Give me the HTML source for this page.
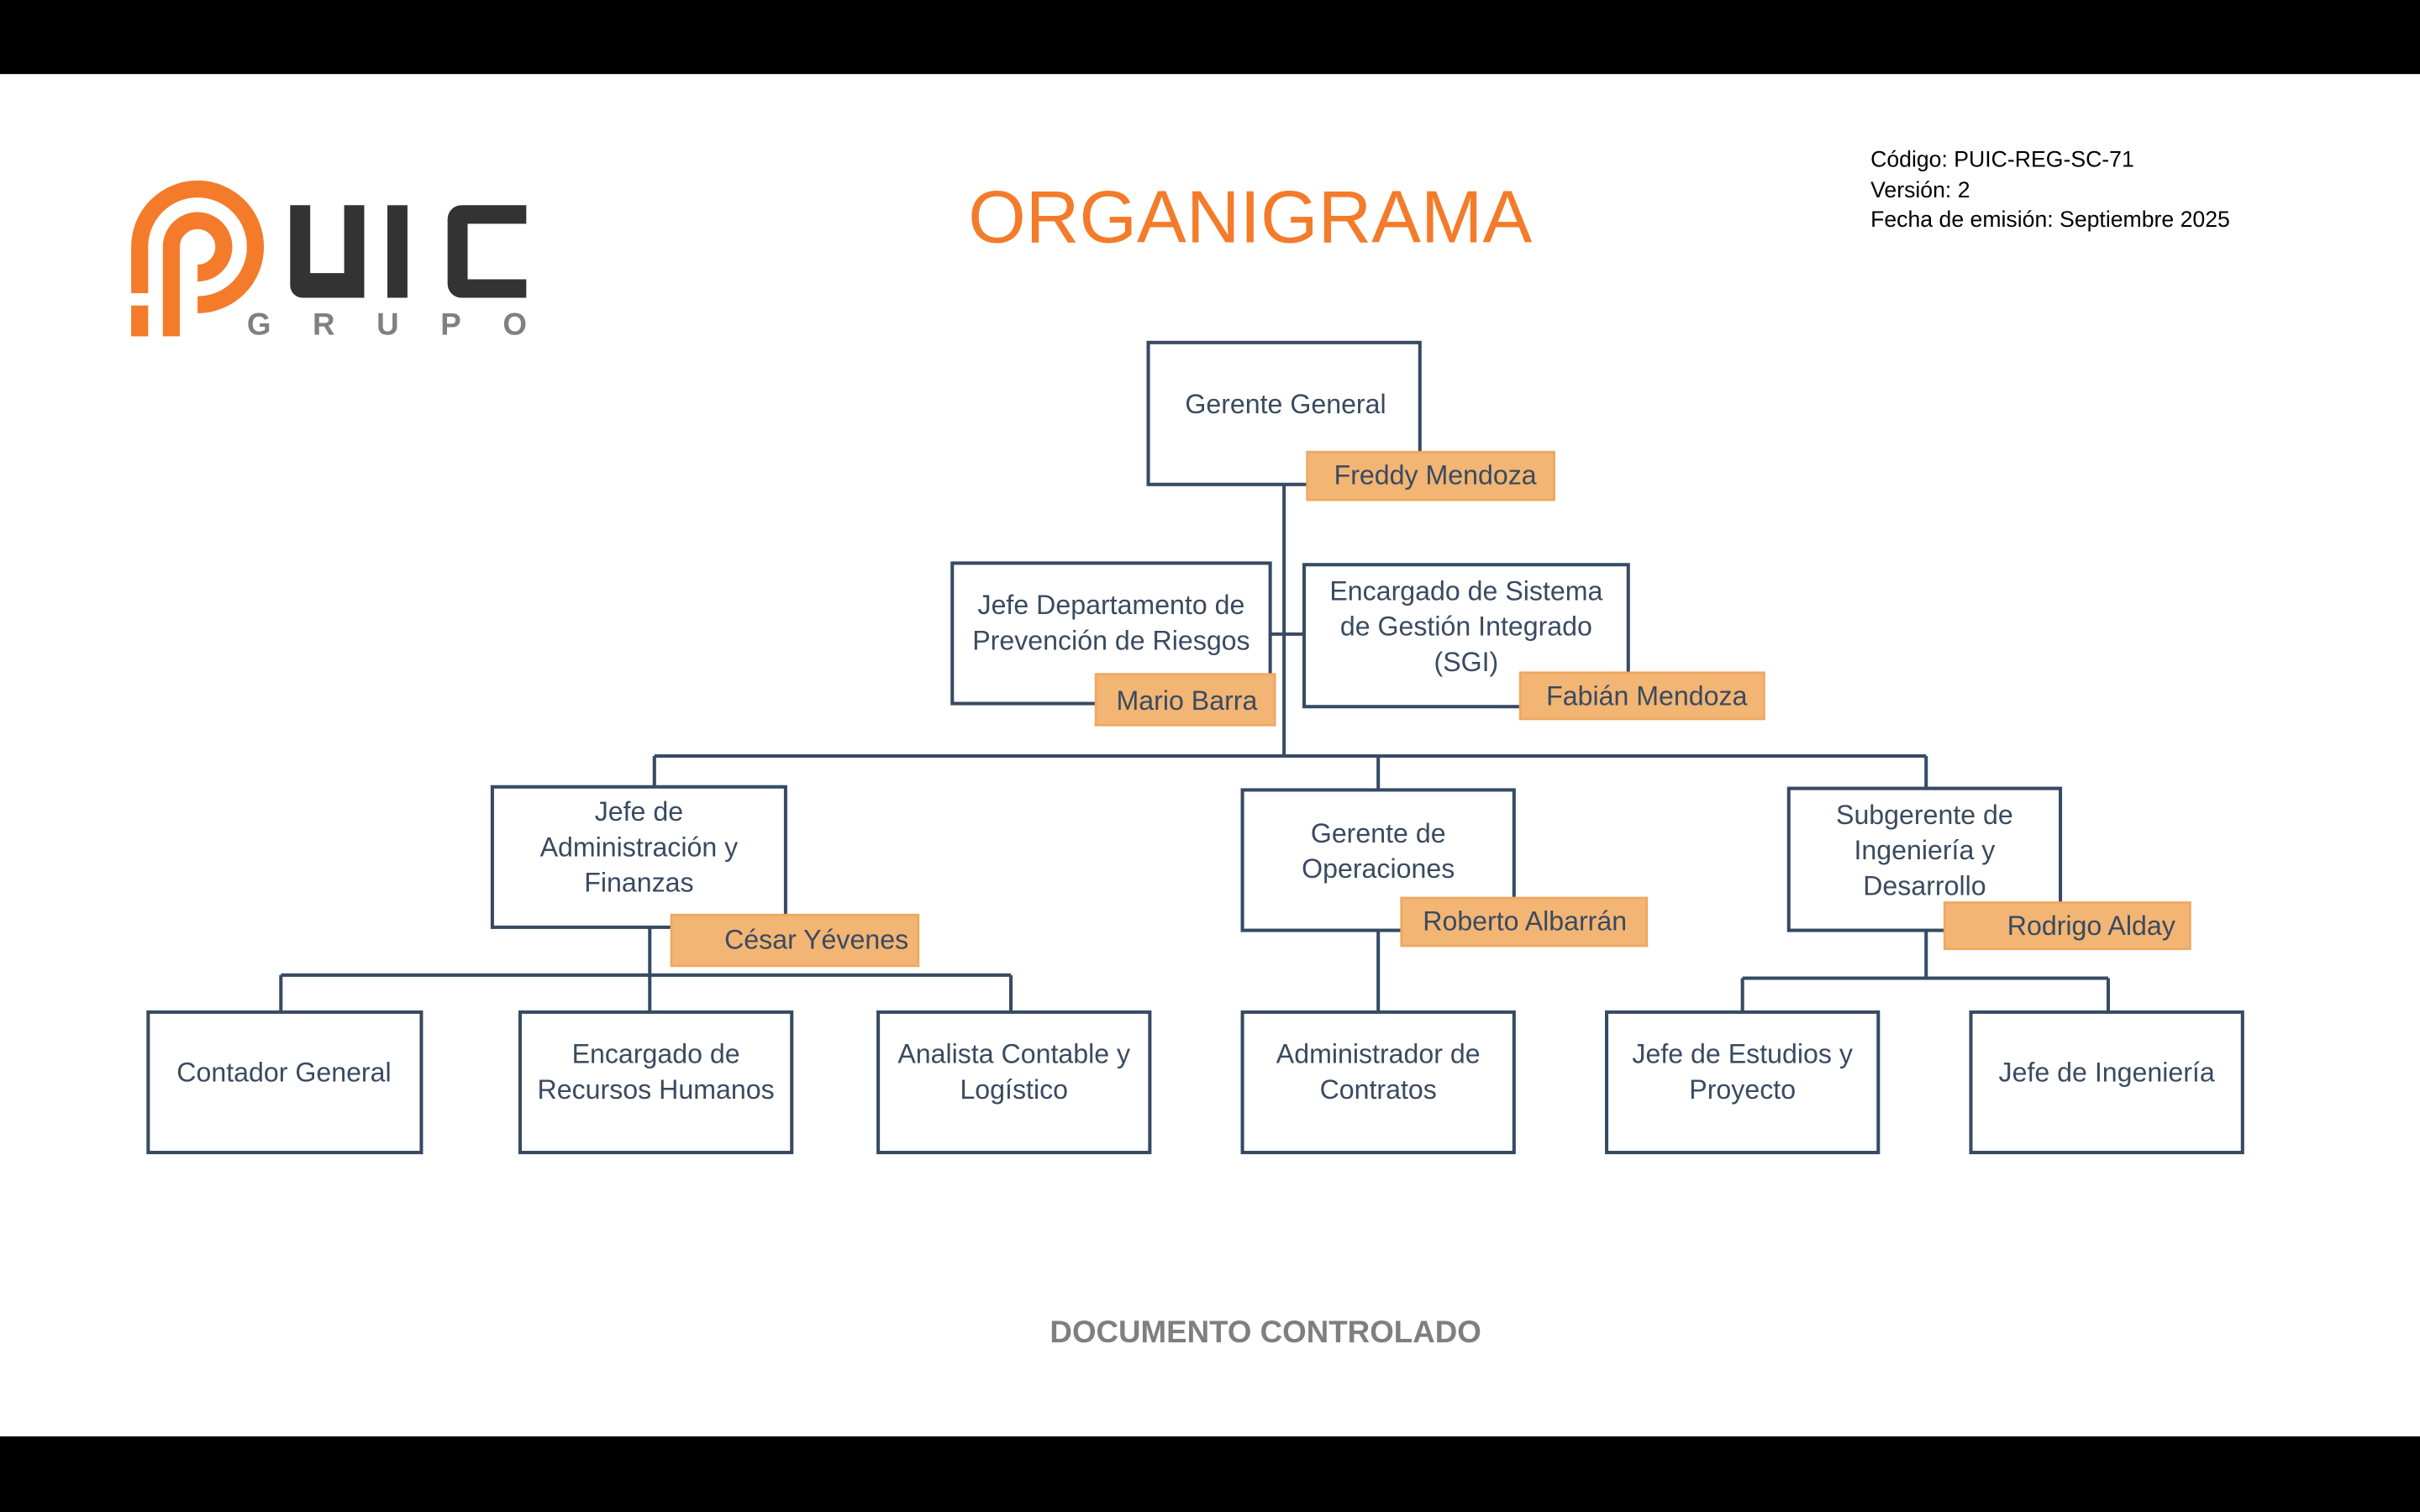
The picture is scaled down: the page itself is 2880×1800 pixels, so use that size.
<!DOCTYPE html>
<html><head><meta charset="utf-8"><style>
html,body{margin:0;padding:0;background:#fff;}
svg{display:block;}
text{font-family:"Liberation Sans",sans-serif;}
.t{fill:#3a4a60;font-size:17.5px;text-anchor:middle;}
.b{fill:#fff;stroke:#364a63;stroke-width:2.2;}
.l{stroke:#364a63;stroke-width:2.2;fill:none;}
.o{fill:#f2b574;stroke:#eea860;stroke-width:1.5;}
</style></head><body>
<svg width="2880" height="1800" viewBox="0 0 1568 980" xmlns="http://www.w3.org/2000/svg">
<rect x="0" y="0" width="1568" height="48" fill="#000"/>
<rect x="0" y="931" width="1568" height="49" fill="#000"/>

<!-- logo -->
<g fill="none" stroke="#f47b2a" stroke-width="11">
<path d="M90.5 190 L90.5 160 A37.5 37.5 0 1 1 128 197.5"/>
<path d="M111 218 L111 160 A17 17 0 1 1 128 177"/>
</g>
<rect x="85" y="198" width="11" height="20" fill="#f47b2a"/>
<g fill="#333">
<path d="M188 133 h13 v44 h22 v-44 h13 v60 h-40 a8 8 0 0 1 -8 -8 z"/>
<rect x="251" y="133" width="13" height="60"/>
<path d="M339 133 h-42 a9 9 0 0 0 -9 9 v42 a9 9 0 0 0 9 9 h42 v-12 h-38 v-36 h38 z" transform="translate(2,0)"/>
</g>
<text x="160" y="217" fill="#808080" font-size="20" font-weight="bold" letter-spacing="27">GRUPO</text>

<text x="810" y="157" fill="#f47b2a" font-size="48" text-anchor="middle">ORGANIGRAMA</text>
<g font-size="14.5" fill="#000">
<text x="1212" y="108">Código: PUIC-REG-SC-71</text>
<text x="1212" y="128">Versión: 2</text>
<text x="1212" y="147">Fecha de emisión: Septiembre 2025</text>
</g>

<!-- connectors -->
<path class="l" d="M832 314 V490 M823 411 H845 M424 490 H1248 M424 490 V510 M893 490 V512 M1248 490 V511"/>
<path class="l" d="M421 601 V656 M182 632 H655 M182 632 V656 M655 632 V656 M893 603 V656 M1248 603 V634 M1129 634 H1366 M1129 634 V656 M1366 634 V656"/>

<!-- boxes -->
<rect class="b" x="744" y="222" width="176" height="92"/>
<text class="t" x="833" y="268">Gerente General</text>
<rect class="o" x="847" y="293" width="160" height="31"/>
<text class="t" x="930" y="314">Freddy Mendoza</text>

<rect class="b" x="617" y="365" width="206" height="91"/>
<text class="t" x="720" y="398">Jefe Departamento de</text>
<text class="t" x="720" y="421">Prevención de Riesgos</text>
<rect class="o" x="710" y="437" width="116" height="33"/>
<text class="t" x="769" y="460">Mario Barra</text>

<rect class="b" x="845" y="366" width="210" height="92"/>
<text class="t" x="950" y="389">Encargado de Sistema</text>
<text class="t" x="950" y="412">de Gestión Integrado</text>
<text class="t" x="950" y="435">(SGI)</text>
<rect class="o" x="985" y="436" width="158" height="30"/>
<text class="t" x="1067" y="457">Fabián Mendoza</text>

<rect class="b" x="319" y="510" width="190" height="91"/>
<text class="t" x="414" y="532">Jefe de</text>
<text class="t" x="414" y="555">Administración y</text>
<text class="t" x="414" y="578">Finanzas</text>
<rect class="o" x="435" y="593" width="160" height="33"/>
<text class="t" x="529" y="615">César Yévenes</text>

<rect class="b" x="805" y="512" width="176" height="91"/>
<text class="t" x="893" y="546">Gerente de</text>
<text class="t" x="893" y="569">Operaciones</text>
<rect class="o" x="908" y="582" width="159" height="31"/>
<text class="t" x="988" y="603">Roberto Albarrán</text>

<rect class="b" x="1159" y="511" width="176" height="92"/>
<text class="t" x="1247" y="534">Subgerente de</text>
<text class="t" x="1247" y="557">Ingeniería y</text>
<text class="t" x="1247" y="580">Desarrollo</text>
<rect class="o" x="1260" y="585" width="159" height="30"/>
<text class="t" x="1355" y="606">Rodrigo Alday</text>

<rect class="b" x="96" y="656" width="177" height="91"/>
<text class="t" x="184" y="701">Contador General</text>
<rect class="b" x="337" y="656" width="176" height="91"/>
<text class="t" x="425" y="689">Encargado de</text>
<text class="t" x="425" y="712">Recursos Humanos</text>
<rect class="b" x="569" y="656" width="176" height="91"/>
<text class="t" x="657" y="689">Analista Contable y</text>
<text class="t" x="657" y="712">Logístico</text>
<rect class="b" x="805" y="656" width="176" height="91"/>
<text class="t" x="893" y="689">Administrador de</text>
<text class="t" x="893" y="712">Contratos</text>
<rect class="b" x="1041" y="656" width="176" height="91"/>
<text class="t" x="1129" y="689">Jefe de Estudios y</text>
<text class="t" x="1129" y="712">Proyecto</text>
<rect class="b" x="1277" y="656" width="176" height="91"/>
<text class="t" x="1365" y="701">Jefe de Ingeniería</text>

<text x="820" y="870" fill="#7f7f7f" font-size="20" font-weight="bold" text-anchor="middle">DOCUMENTO CONTROLADO</text>
</svg>
</body></html>
